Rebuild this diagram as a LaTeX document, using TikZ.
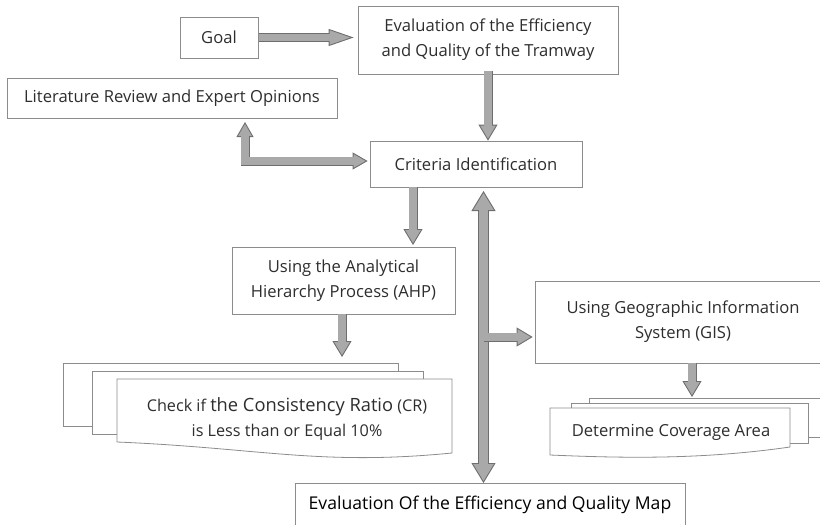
\documentclass[tikz,border=0pt]{standalone}
\usepackage{fontspec}
\setmainfont{Open Sans}
\usetikzlibrary{arrows.meta}
\definecolor{boxline}{HTML}{8C8C8C}
\definecolor{arrline}{HTML}{6E6E6E}
\definecolor{arrfill}{HTML}{A9A9A9}
\definecolor{txt}{HTML}{2E2E2E}
\tikzset{
  box/.style={draw=boxline,line width=0.8pt,fill=white,text=txt,align=center,inner sep=0pt,font=\fontsize{16.6}{25}\selectfont},
  page/.style={draw=boxline,line width=0.8pt,fill=white},
  fat/.style={draw=arrline,line width=9pt,
    -{Triangle[width=19pt,length=16pt,line width=0.9pt,fill=arrfill]},
    postaction={draw=arrfill,-,line width=7.2pt,shorten >=14pt}},
  fatlong/.style={draw=arrline,line width=9pt,
    -{Triangle[width=17pt,length=25pt,line width=0.9pt,fill=arrfill]},
    postaction={draw=arrfill,-,line width=7.2pt,shorten >=23pt}},
  fatboth/.style={draw=arrline,line width=9pt,
    {Triangle[width=17pt,length=15pt,line width=0.9pt,fill=arrfill]}-{Triangle[width=17pt,length=15pt,line width=0.9pt,fill=arrfill]},
    postaction={draw=arrfill,-,line width=7.2pt,shorten >=13pt,shorten <=13pt}},
  fatbig/.style={draw=arrline,line width=11pt,
    {Triangle[width=24pt,length=20pt,line width=0.9pt,fill=arrfill]}-{Triangle[width=24pt,length=20pt,line width=0.9pt,fill=arrfill]},
    postaction={draw=arrfill,-,line width=9.2pt,shorten >=18pt,shorten <=18pt}}
}
\begin{document}
\begin{tikzpicture}[x=1pt,y=-1pt]
\useasboundingbox (0,0) rectangle (820,525);

\node[box,minimum width=78pt,minimum height=41pt] (goal) at (219,37.5) {Goal};
\node[box,minimum width=260pt,minimum height=68pt] (eval) at (488,40) {Evaluation of the Efficiency\\and Quality of the Tramway};
\node[box,minimum width=330pt,minimum height=40pt] (lit) at (172,98) {Literature Review and Expert Opinions};
\node[box,minimum width=212pt,minimum height=46pt] (crit) at (476,164) {Criteria Identification};
\node[box,minimum width=223pt,minimum height=67pt] (ahp) at (343.5,280.5) {Using the Analytical\\Hierarchy Process (AHP)};
\node[box,minimum width=296pt,minimum height=82pt] (gis) at (683,322) {Using Geographic Information\\System (GIS)};
\node[box,text=black,minimum width=390pt,minimum height=44pt,font=\fontsize{17.6}{25}\selectfont] (map) at (490,505) {Evaluation Of the Efficiency and Quality Map};

% consistency check pages
\draw[page] (63,363) rectangle (398,426);
\draw[page] (92,371) rectangle (423,434);
\draw[page] (117,379) -- (452,379) -- (452,453) .. controls (320,466) and (260,448) .. (117,442) -- cycle;
\node[box,draw=none,fill=none,font=\fontsize{16.2}{25}\selectfont] (check) at (287,419) {Check if {\fontsize{18.3}{25}\selectfont the Consistency Ratio} (CR)\\is Less than or Equal 10\%};

% coverage pages
\draw[page] (589,398) rectangle (830,437);
\draw[page] (571,403) rectangle (808,443);
\draw[page] (550,408) -- (790,408) -- (790,447) .. controls (700,460) and (620,458) .. (550,455) -- cycle;
\node[box,draw=none,fill=none] (cover) at (671,432) {Determine Coverage Area};

\coordinate (litport) at (245,122);
\coordinate (ahpin) at (413,245);
\coordinate (chkin) at (342,357);
\coordinate (spinetop) at (483.5,191);
\coordinate (spinebot) at (483.5,483);
\coordinate (branch) at (483.5,337);
\coordinate (covin) at (692,397);

\draw[fatlong] ([xshift=1pt]goal.east) -- ([xshift=-4pt]goal.east -| eval.west);
\draw[fat] ([yshift=3pt]eval.south) -- (eval.south |- crit.north);
\draw[fatboth] (litport) |- ([xshift=-2pt,yshift=3pt]crit.west);
\draw[fat] (crit.south -| ahpin) -- (ahpin);
\draw[fat] (ahp.south -| chkin) -- (chkin);
\draw[fatbig] (spinetop) -- (spinebot);
\draw[fat] (branch) -- ([xshift=-2pt]branch -| gis.west);
\draw[fat] (gis.south -| covin) -- (covin);
\end{tikzpicture}
\end{document}
